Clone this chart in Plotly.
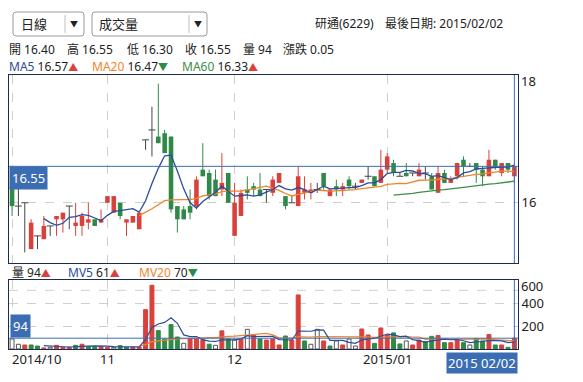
import plotly.graph_objects as go
import pandas as pd

PAGE_W, PAGE_H = 583, 382
OFF = 8  # browser default body margin
W, H = PAGE_W - OFF, PAGE_H - OFF

# ---------------- data ----------------
opens = [16.25, 15.95, 16.00, 15.30, 15.50, 15.45, 15.65, 15.75, 15.75, 15.95,
         15.65, 15.65, 15.70, 15.75, 15.70, 16.00, 15.85, 16.00, 15.70, 15.70,
         15.60, 16.95, 17.10, 17.00, 17.05, 17.00, 15.95, 15.90, 15.95, 15.95,
         16.50, 16.45, 16.35, 16.20, 16.45, 15.50, 15.80, 16.20, 16.25, 16.20,
         16.20, 16.15, 16.30, 16.10, 16.00, 15.95, 16.15, 16.15, 16.20, 16.45,
         16.10, 16.25, 16.20, 16.35, 16.25, 16.30, 16.40, 16.40, 16.30, 16.50,
         16.60, 16.40, 16.45, 16.45, 16.40, 16.45, 16.40, 16.15, 16.45, 16.30,
         16.40, 16.65, 16.55, 16.60, 16.50, 16.40, 16.65, 16.45, 16.60, 16.40]
highs = [16.30, 16.25, 16.00, 15.75, 15.50, 15.80, 15.65, 15.80, 15.85, 15.95,
         16.00, 15.85, 16.00, 15.75, 15.90, 16.10, 16.10, 16.00, 15.75, 15.80,
         15.85, 16.95, 17.45, 17.80, 17.10, 17.00, 15.95, 15.95, 16.20, 16.40,
         16.90, 16.50, 16.50, 16.75, 16.45, 16.30, 16.20, 16.40, 16.30, 16.45,
         16.20, 16.40, 16.45, 16.10, 16.10, 16.55, 16.40, 16.30, 16.30, 16.45,
         16.20, 16.35, 16.30, 16.40, 16.30, 16.35, 16.55, 16.40, 16.80, 16.75,
         16.65, 16.45, 16.60, 16.45, 16.60, 16.55, 16.45, 16.55, 16.50, 16.40,
         16.60, 16.70, 16.60, 16.60, 16.55, 16.80, 16.65, 16.60, 16.60, 16.55]
lows = [15.80, 15.80, 15.25, 15.30, 15.30, 15.45, 15.50, 15.50, 15.55, 15.60,
        15.50, 15.50, 15.60, 15.65, 15.70, 16.00, 15.85, 15.75, 15.50, 15.70,
        15.60, 16.80, 16.70, 16.90, 16.75, 15.85, 15.55, 15.75, 15.75, 15.90,
        16.40, 16.05, 16.10, 16.10, 16.00, 15.50, 15.80, 16.05, 16.10, 16.10,
        16.00, 16.10, 16.30, 15.90, 16.00, 15.95, 16.05, 16.05, 16.15, 16.20,
        16.10, 16.10, 16.10, 16.20, 16.20, 16.30, 16.35, 16.25, 16.30, 16.45,
        16.40, 16.40, 16.40, 16.40, 16.40, 16.35, 16.20, 16.15, 16.30, 16.30,
        16.35, 16.40, 16.55, 16.30, 16.25, 16.40, 16.50, 16.40, 16.45, 16.30]
closes = [15.95, 15.95, 16.00, 15.70, 15.50, 15.65, 15.65, 15.80, 15.85, 15.95,
          15.70, 15.80, 15.75, 15.65, 15.75, 16.10, 16.10, 15.80, 15.75, 15.80,
          15.85, 16.95, 17.10, 16.90, 16.75, 15.90, 15.75, 15.75, 15.85, 16.35,
          16.40, 16.10, 16.10, 16.30, 16.00, 16.00, 16.15, 16.15, 16.20, 16.10,
          16.20, 16.35, 16.45, 15.95, 16.00, 16.40, 16.20, 16.20, 16.20, 16.25,
          16.20, 16.20, 16.25, 16.25, 16.25, 16.35, 16.40, 16.25, 16.50, 16.70,
          16.45, 16.40, 16.40, 16.45, 16.50, 16.45, 16.20, 16.45, 16.30, 16.35,
          16.60, 16.55, 16.55, 16.50, 16.40, 16.65, 16.55, 16.60, 16.50, 16.55]
volumes = [87, 41, 35, 35, 26, 9, 15, 32, 15, 15,
           32, 41, 23, 23, 23, 15, 15, 29, 15, 15,
           15, 342, 554, 160, 87, 212, 104, 50, 87, 87,
           80, 42, 32, 158, 87, 77, 87, 171, 122, 87,
           78, 87, 35, 113, 78, 470, 70, 41, 171, 70,
           26, 70, 35, 87, 26, 174, 122, 49, 183, 122,
           140, 44, 70, 35, 78, 64, 110, 118, 55, 55,
           76, 55, 35, 90, 70, 126, 35, 35, 15, 94]
month_labels = ["2014/10", "11", "12", "2015/01"]
month_start_idx = [0, 15, 35, 59]
last_date_box = "2015 02/02"
stock_title = "研通(6229)"
last_date_text = "最後日期: 2015/02/02"
period_choice = "日線"
indicator_choice = "成交量"

# ---------------- styling ----------------
RED = "#d9413c"
GREEN = "#2f8a48"
DOJI = "#454545"
BLUE = "#3b6db3"
MA5C = "#2c4b9c"
MA20C = "#f0842a"
MA60C = "#3f8c4c"
FRAME = "#1d2c4c"
GRID = "#cfcfcf"
TXT = "#222222"
FONT = "Noto Sans, Noto Sans CJK TC, sans-serif"


def px(x):
    return (x - OFF) / W


def py(y):
    return 1 - (y - OFF) / H


n = len(closes)
idx = list(range(n))
cs = pd.Series(closes, dtype=float)
vs = pd.Series(volumes, dtype=float)


def moving(s, k):
    m = s.rolling(k).mean()
    m[m.index < k] = float("nan")
    return [None if pd.isna(v) else float(v) for v in m]


ma5, ma20, ma60 = moving(cs, 5), moving(cs, 20), moving(cs, 60)
mv5, mv20 = moving(vs, 5), moving(vs, 20)

fig = go.Figure()

# wicks
groups = {"up": RED, "down": GREEN, "flat": DOJI}
sel = {
    "up": [i for i in idx if closes[i] > opens[i]],
    "down": [i for i in idx if closes[i] < opens[i]],
    "flat": [i for i in idx if closes[i] == opens[i]],
}
for key, col in groups.items():
    wx, wy = [], []
    for i in sel[key]:
        wx += [i, i, None]
        wy += [lows[i], highs[i], None]
    fig.add_trace(go.Scatter(x=wx, y=wy, mode="lines", line=dict(color=col, width=1),
                             xaxis="x", yaxis="y", hoverinfo="skip"))
for key in ("up", "down"):
    ii = sel[key]
    fig.add_trace(go.Bar(
        x=ii, y=[abs(closes[i] - opens[i]) for i in ii],
        base=[min(opens[i], closes[i]) for i in ii], width=0.72,
        marker=dict(color=groups[key], line=dict(width=0)),
        xaxis="x", yaxis="y", hoverinfo="skip"))
ff = sel["flat"]
fig.add_trace(go.Scatter(x=ff, y=[closes[i] for i in ff], mode="markers",
                         marker=dict(symbol="line-ew", size=5, line=dict(width=1, color=DOJI)),
                         xaxis="x", yaxis="y", hoverinfo="skip"))

# moving averages
for ser, col in ((ma60, MA60C), (ma20, MA20C), (ma5, MA5C)):
    fig.add_trace(go.Scatter(x=idx, y=ser, mode="lines", line=dict(color=col, width=1.3),
                             xaxis="x", yaxis="y", hoverinfo="skip"))

# volume bars
vfill, vline = [], []
for i in idx:
    if i > 0 and closes[i] > closes[i - 1]:
        vfill.append(RED); vline.append(RED)
    elif i > 0 and closes[i] < closes[i - 1]:
        vfill.append(GREEN); vline.append(GREEN)
    else:
        vfill.append("#ffffff"); vline.append("#555555")
fig.add_trace(go.Bar(x=idx, y=volumes, width=0.62,
                     marker=dict(color=vfill, line=dict(color=vline, width=1)),
                     xaxis="x2", yaxis="y2", hoverinfo="skip"))
for ser, col in ((mv20, MA20C), (mv5, MA5C)):
    fig.add_trace(go.Scatter(x=idx, y=ser, mode="lines", line=dict(color=col, width=1.2),
                             xaxis="x2", yaxis="y2", hoverinfo="skip"))

# ---------------- layout ----------------
xr = [-0.48, n - 1 + 0.57]
axis_common = dict(showline=True, mirror=True, linecolor=FRAME, linewidth=1, zeroline=False)
fig.update_layout(
    width=W, height=H, autosize=False,
    margin=dict(l=0, r=0, t=0, b=0),
    paper_bgcolor="white", plot_bgcolor="white",
    showlegend=False, hovermode=False, barmode="overlay",
    font=dict(family=FONT, size=13, color=TXT),
    xaxis=dict(domain=[px(9), px(518)], range=xr, anchor="y", tickvals=month_start_idx,
               showticklabels=False, ticks="", showgrid=True, gridcolor=GRID, griddash="dash",
               rangeslider=dict(visible=False), **axis_common),
    yaxis=dict(domain=[py(263), py(75)], range=[15.09, 17.93], side="right", anchor="x",
               tickvals=[16], ticks="", showgrid=True, gridcolor=GRID, griddash="dash",
               tickfont=dict(size=13, color=TXT), **axis_common),
    xaxis2=dict(domain=[px(9), px(518)], range=xr, anchor="y2", matches="x", tickvals=month_start_idx,
                showticklabels=False, ticks="", showgrid=True, gridcolor=GRID, griddash="dash",
                **axis_common),
    yaxis2=dict(domain=[py(349), py(280)], range=[0, 600], side="right", anchor="x2",
                tickvals=[200, 400], ticks="", showgrid=True, gridcolor=GRID, griddash="dash",
                tickfont=dict(size=13, color=TXT), **axis_common),
)

shapes = []
shapes.append(dict(type="line", xref="x2 domain", x0=0, x1=1, yref="y2", y0=510, y1=510,
                   line=dict(color=GRID, width=1, dash="dash"), layer="below"))
shapes.append(dict(type="line", xref="x domain", x0=0, x1=1, yref="y", y0=closes[-1], y1=closes[-1],
                   line=dict(color=BLUE, width=1)))
shapes.append(dict(type="line", xref="x", x0=n - 1, x1=n - 1, yref="y domain", y0=0, y1=1,
                   line=dict(color=BLUE, width=1)))
shapes.append(dict(type="line", xref="x2 domain", x0=0, x1=1, yref="y2", y0=volumes[-1], y1=volumes[-1],
                   line=dict(color=BLUE, width=1)))
shapes.append(dict(type="line", xref="x2", x0=n - 1, x1=n - 1, yref="y2 domain", y0=0, y1=1,
                   line=dict(color=BLUE, width=1)))


def rrect(x0, y0, x1, y1, r=3):
    pts = [("M", x0 + r, y0), ("L", x1 - r, y0), ("Q", x1, y0, x1, y0 + r), ("L", x1, y1 - r),
           ("Q", x1, y1, x1 - r, y1), ("L", x0 + r, y1), ("Q", x0, y1, x0, y1 - r),
           ("L", x0, y0 + r), ("Q", x0, y0, x0 + r, y0)]
    out = []
    for p in pts:
        s = p[0]
        coords = p[1:]
        for k in range(0, len(coords), 2):
            s += f" {px(coords[k]):.5f},{py(coords[k + 1]):.5f}"
        out.append(s)
    return " ".join(out) + " Z"


for (bx0, bx1, div) in ((13, 84, 65), (92, 207, 189)):
    shapes.append(dict(type="path", xref="paper", yref="paper", path=rrect(bx0, 12, bx1, 36),
                       line=dict(color="#9a9a9a", width=1), fillcolor="white"))
    shapes.append(dict(type="line", xref="paper", yref="paper", x0=px(div), x1=px(div),
                       y0=py(15), y1=py(33), line=dict(color="#c0c0c0", width=1)))
fig.update_layout(shapes=shapes)

ann = []


def text(x, y, s, size=12, xanchor="left", color=TXT, **kw):
    ann.append(dict(xref="paper", yref="paper", x=px(x), y=py(y), text=s, showarrow=False,
                    xanchor=xanchor, yanchor="middle", borderpad=0, borderwidth=0,
                    font=dict(size=size, color=color, family=FONT), **kw))


# dropdowns and title
text(21, 24, period_choice, size=13)
text(74, 24, "▼", size=8, xanchor="center")
text(99, 24, indicator_choice, size=13)
text(198, 24, "▼", size=8, xanchor="center")
text(315, 23, stock_title, size=12)
text(385, 23, last_date_text, size=12)

# header line 1
o, h, l, c, v = opens[-1], highs[-1], lows[-1], closes[-1], volumes[-1]
chg = closes[-1] - closes[-2]
for xx, s in ((9, f"開 {o:.2f}"), (67, f"高 {h:.2f}"), (127, f"低 {l:.2f}"),
              (185, f"收 {c:.2f}"), (243, f"量 {v}"), (283, f"漲跌 {chg:.2f}")):
    text(xx, 49.5, s, size=12)


def arrow(today, yesterday):
    if today >= yesterday:
        return f"<span style='color:{RED};font-size:10px'>▲</span>"
    return f"<span style='color:{GREEN};font-size:10px'>▼</span>"


for xx, name, ser, col in ((9, "MA5", ma5, MA5C), (92, "MA20", ma20, MA20C), (182, "MA60", ma60, MA60C)):
    s = f"<span style='color:{col}'>{name}</span> {ser[-1]:.2f}{arrow(ser[-1], ser[-2])}"
    text(xx, 66.5, s, size=12)

# volume legend
text(12, 272, f"量 {volumes[-1]}{arrow(volumes[-1], volumes[-2])}", size=12)
for xx, name, ser, col in ((68, "MV5", mv5, MA5C), (139, "MV20", mv20, MA20C)):
    s = f"<span style='color:{col}'>{name}</span> {round(ser[-1])}{arrow(ser[-1], ser[-2])}"
    text(xx, 272, s, size=12)

# clamped top labels on the right axes
text(521, 81, "18", size=13)
text(521, 286, "600", size=13)

# value boxes
ann.append(dict(xref="paper", yref="y", x=px(9), y=closes[-1], xanchor="left", yanchor="top",
                text=f"{closes[-1]:.2f}", showarrow=False, bgcolor=BLUE, borderpad=2,
                font=dict(size=13, color="white", family=FONT)))
ann.append(dict(xref="paper", yref="y2", x=px(9.5), y=volumes[-1], xanchor="left", yanchor="bottom",
                text=f"{volumes[-1]}", showarrow=False, bgcolor=BLUE, borderpad=2,
                font=dict(size=13, color="white", family=FONT)))
ann.append(dict(xref="paper", yref="paper", x=px(518), y=py(352), xanchor="right", yanchor="top",
                text=last_date_box, showarrow=False, bgcolor=BLUE, borderpad=1,
                font=dict(size=13, color="white", family=FONT)))

# month labels
for k, (pos, lab) in enumerate(zip(month_start_idx, month_labels)):
    ann.append(dict(xref="x2", yref="paper", x=pos, y=py(359), text=lab, showarrow=False,
                    xanchor="left" if k == 0 else "center", yanchor="middle",
                    borderpad=0, borderwidth=0,
                    font=dict(size=13, color=TXT, family=FONT)))

fig.update_layout(annotations=ann)
fig.write_html("out.html")
